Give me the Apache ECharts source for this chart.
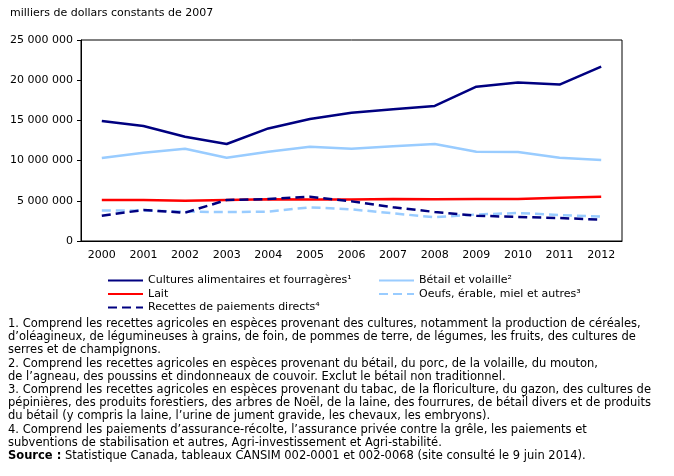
<!DOCTYPE html>
<html>
<head>
<meta charset="utf-8">
<script src="https://cdn.jsdelivr.net/npm/echarts@6/dist/echarts.min.js"></script>
<style>
  html, body { margin: 0; padding: 0; background: #fff; }
  #chart { width: 674px; height: 476px; }
</style>
</head>
<body>
<div id="chart"></div>
<script>
// années
const years = ['2000', '2001', '2002', '2003', '2004', '2005', '2006', '2007', '2008', '2009', '2010', '2011', '2012']

// milliers de dollars constants de 2007
const cultures = [14930000, 14300000, 12970000, 12060000, 14000000, 15170000, 15960000, 16400000, 16800000, 19200000, 19700000, 19450000, 21700000]
const betail = [10320000, 10980000, 11480000, 10360000, 11100000, 11730000, 11480000, 11800000, 12060000, 11100000, 11070000, 10360000, 10070000]
const lait = [5100000, 5100000, 5000000, 5100000, 5200000, 5150000, 5150000, 5220000, 5180000, 5220000, 5220000, 5390000, 5510000]
const oeufs = [3800000, 3800000, 3650000, 3600000, 3650000, 4190000, 3940000, 3440000, 2950000, 3300000, 3480000, 3230000, 3030000]
const paiements = [3150000, 3860000, 3520000, 5100000, 5220000, 5510000, 4930000, 4200000, 3610000, 3150000, 2990000, 2860000, 2650000]

const seriesNames = [
  'Cultures alimentaires et fourragères¹',
  'Bétail et volaille²',
  'Lait',
  'Oeufs, érable, miel et autres³',
  'Recettes de paiements directs⁴'
]

const notes = [
  '1. Comprend les recettes agricoles en espèces provenant des cultures, notamment la production de céréales,',
  'd’oléagineux, de légumineuses à grains, de foin, de pommes de terre, de légumes, les fruits, des cultures de',
  'serres et de champignons.',
  '2. Comprend les recettes agricoles en espèces provenant du bétail, du porc, de la volaille, du mouton,',
  'de l’agneau, des poussins et dindonneaux de couvoir. Exclut le bétail non traditionnel.',
  '3. Comprend les recettes agricoles en espèces provenant du tabac, de la floriculture, du gazon, des cultures de',
  'pépinières, des produits forestiers, des arbres de Noël, de la laine, des fourrures, de bétail divers et de produits',
  'du bétail (y compris la laine, l’urine de jument gravide, les chevaux, les embryons).',
  '4. Comprend les paiements d’assurance-récolte, l’assurance privée contre la grêle, les paiements et',
  'subventions de stabilisation et autres, Agri-investissement et Agri-stabilité.'
]
const sourceText = 'Statistique Canada, tableaux CANSIM 002-0001 et 002-0068 (site consulté le 9 juin 2014).'

const NAVY = '#000080'
const LIGHT = '#99ccff'
const RED = '#ff0000'
const FONT = 'DejaVu Sans'
const NOTE_FONT = '11.5px "' + FONT + '"'

const chart = echarts.init(document.getElementById('chart'))

const fmt = v => String(v).replace(/\B(?=(\d{3})+(?!\d))/g, ' ')

const mkLine = (name, data, color, dashed) => ({
  name: name,
  type: 'line',
  data: data,
  symbol: 'none',
  animation: false,
  lineStyle: {
    color: color,
    width: 2.5,
    type: dashed ? [9, 5] : 'solid'
  },
  itemStyle: { color: color }
})

const noteTexts = notes.map((t, i) => ({
  type: 'text',
  left: 8,
  top: 318 + i * 13.2,
  style: { text: t, font: NOTE_FONT, fill: '#000' }
}))

// les deux colonnes de la légende
const legendBase = {
  top: 275,
  orient: 'vertical',
  padding: 0,
  itemGap: 2.5,
  itemWidth: 35,
  itemHeight: 11,
  itemStyle: { opacity: 0 },
  textStyle: { fontSize: 11, color: '#000', fontFamily: FONT }
}

const option = {
  animation: false,
  textStyle: { fontFamily: FONT },
  grid: {
    left: 81,
    right: 52,
    top: 40,
    bottom: 235,
    show: true,
    borderColor: '#000',
    borderWidth: 1,
    containLabel: false
  },
  legend: [
    Object.assign({}, legendBase, { left: 107, data: [seriesNames[0], seriesNames[2], seriesNames[4]] }),
    Object.assign({}, legendBase, { left: 378, data: [seriesNames[1], seriesNames[3]] })
  ],
  xAxis: {
    type: 'category',
    data: years,
    boundaryGap: true,
    axisLine: { show: true, lineStyle: { color: '#000', width: 1 } },
    axisTick: { show: false },
    axisLabel: { color: '#000', fontSize: 11, fontFamily: FONT, margin: 9 }
  },
  yAxis: {
    type: 'value',
    min: 0,
    max: 25000000,
    interval: 5000000,
    axisLine: { show: true, lineStyle: { color: '#000', width: 1 } },
    axisTick: { show: true, length: 4, lineStyle: { color: '#000' } },
    splitLine: { show: false },
    axisLabel: { color: '#000', fontSize: 11, fontFamily: FONT, margin: 8, formatter: fmt }
  },
  graphic: [
    {
      type: 'text',
      left: 10,
      top: 8,
      style: { text: 'milliers de dollars constants de 2007', font: '11px "' + FONT + '"', fill: '#000' }
    },
    ...noteTexts,
    {
      type: 'text',
      left: 8,
      top: 450,
      style: {
        text: '{b|Source :} ' + sourceText,
        font: NOTE_FONT,
        fill: '#000',
        rich: { b: { fontWeight: 'bold', fontSize: 11.5, fontFamily: FONT } }
      }
    }
  ],
  series: [
    mkLine(seriesNames[0], cultures, NAVY, false),
    mkLine(seriesNames[1], betail, LIGHT, false),
    mkLine(seriesNames[2], lait, RED, false),
    mkLine(seriesNames[3], oeufs, LIGHT, true),
    mkLine(seriesNames[4], paiements, NAVY, true)
  ]
}

chart.setOption(option)
</script>
</body>
</html>
